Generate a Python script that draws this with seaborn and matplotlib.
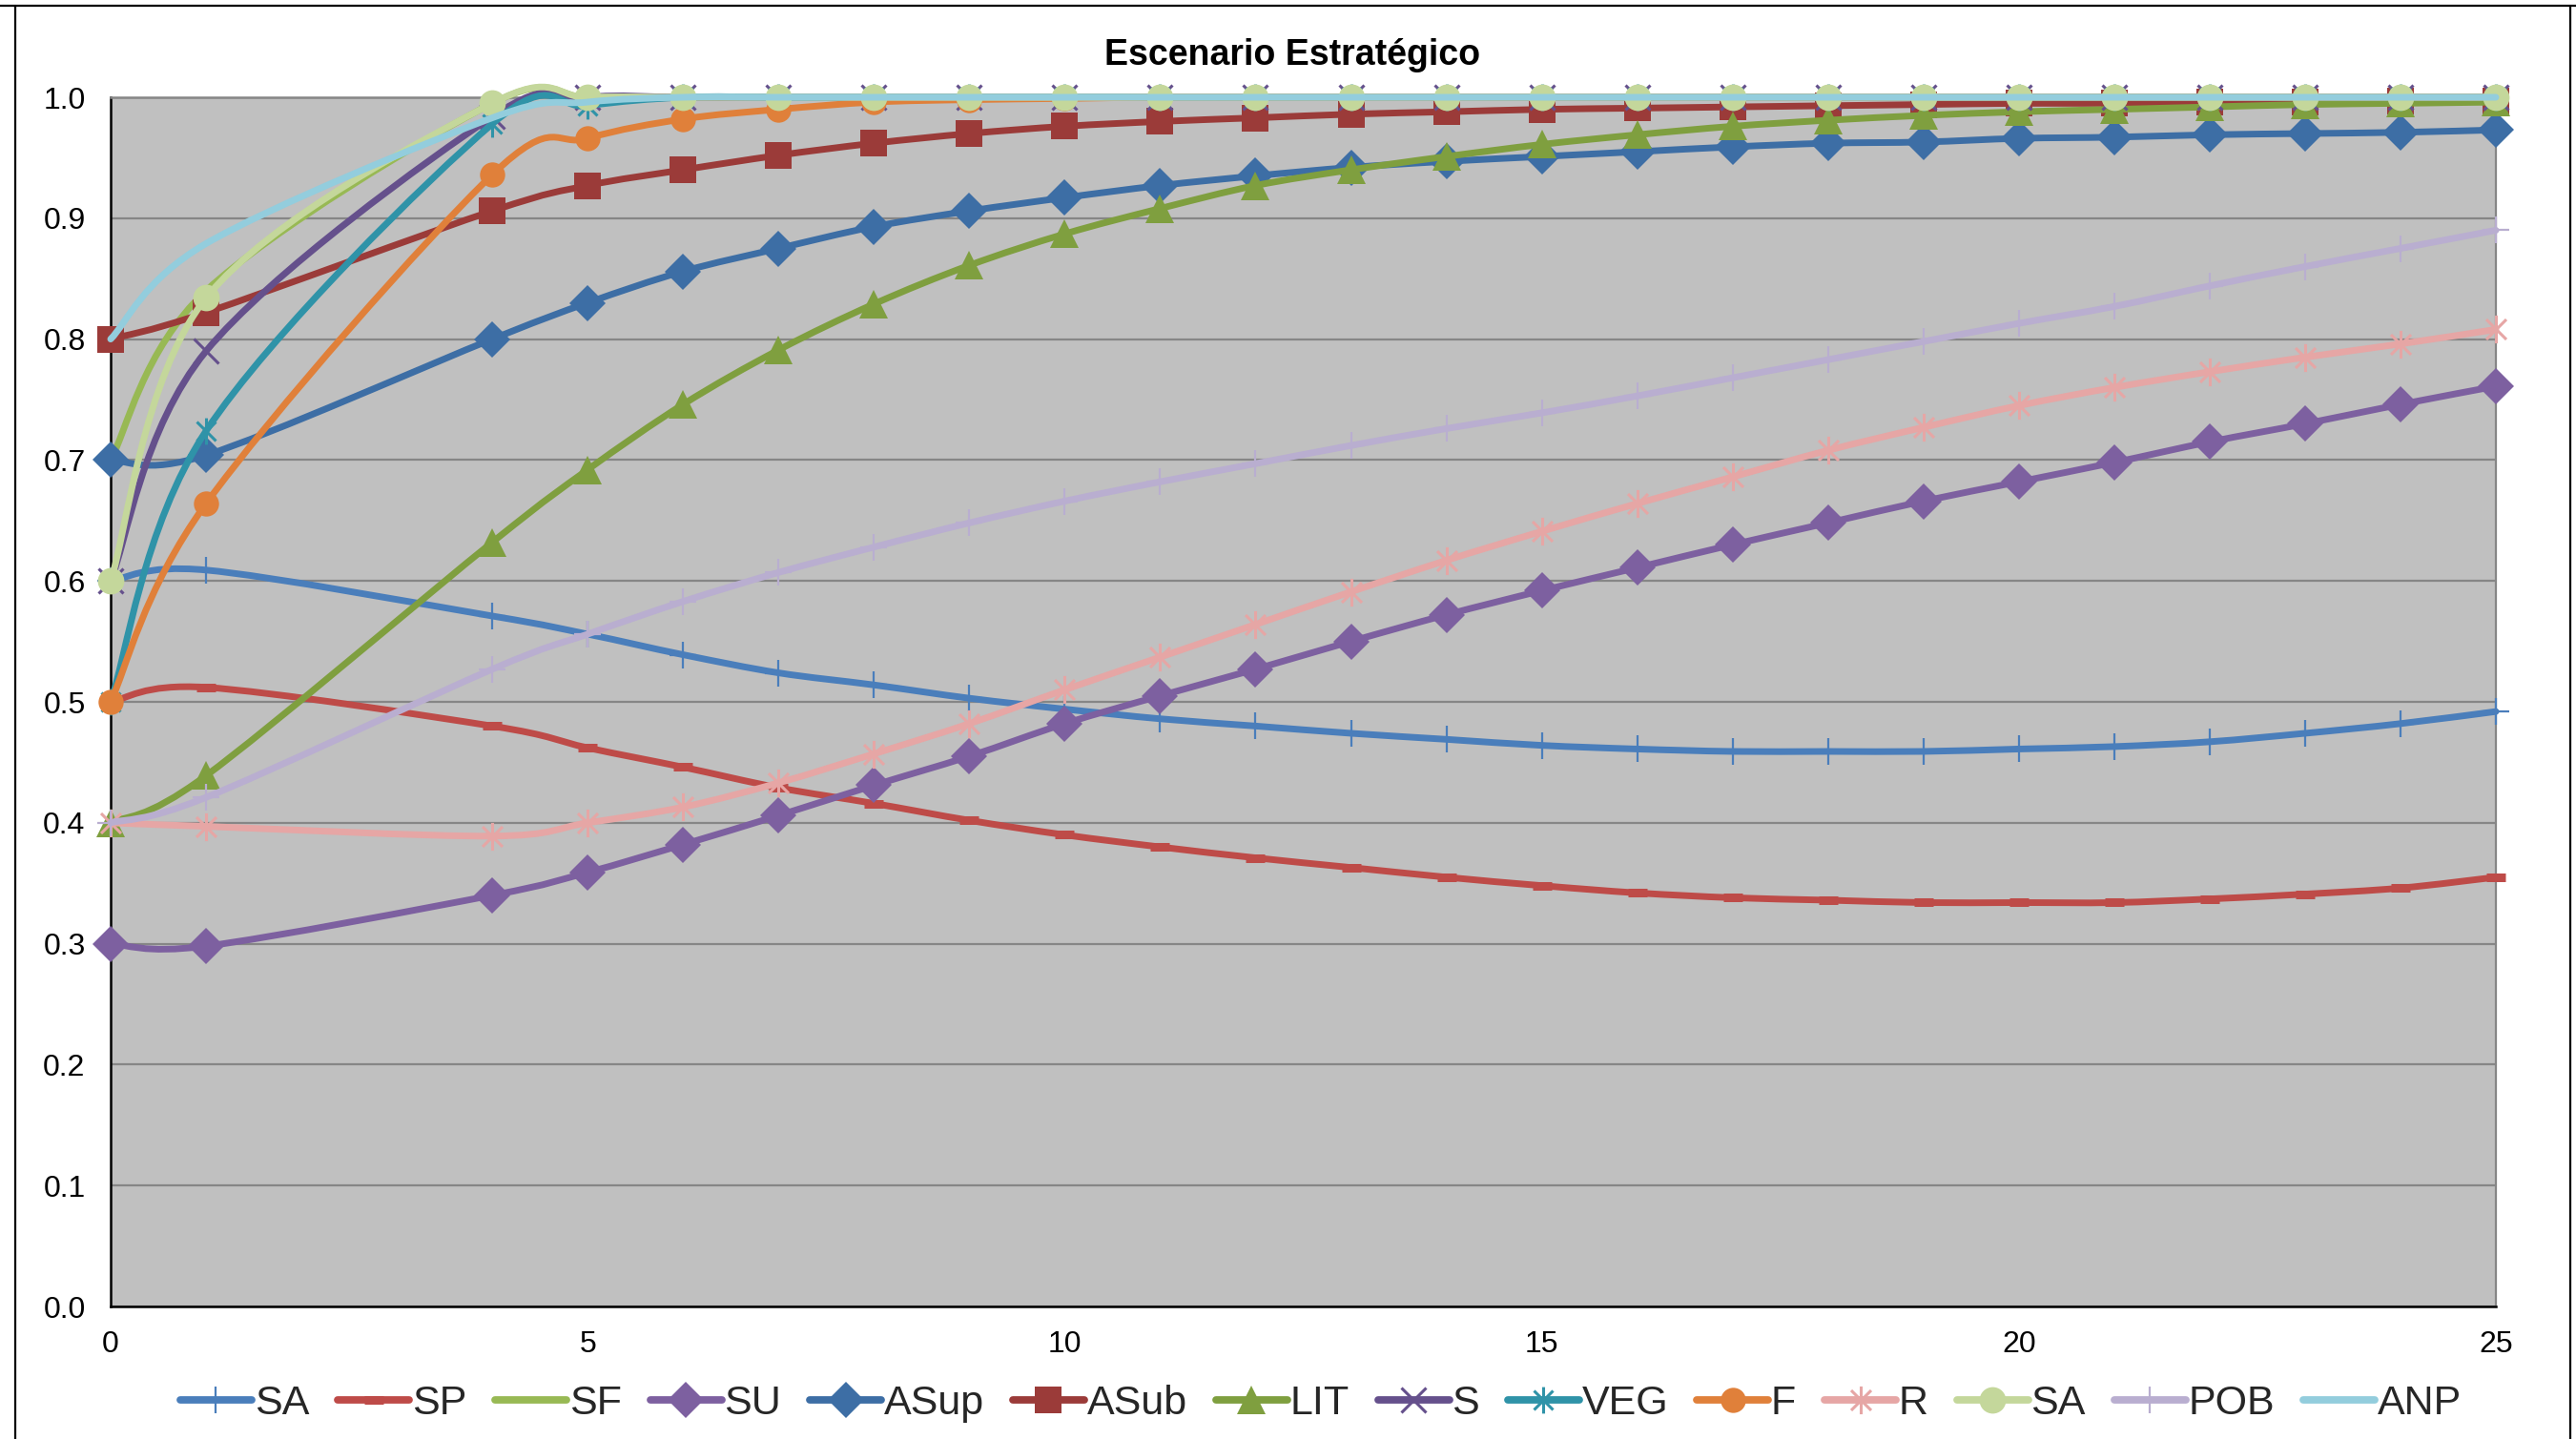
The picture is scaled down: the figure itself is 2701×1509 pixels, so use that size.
import numpy as np
import pandas as pd
import seaborn as sns
import matplotlib
matplotlib.use("Agg")
import matplotlib.pyplot as plt
from matplotlib.path import Path
from matplotlib.patches import PathPatch
from matplotlib.lines import Line2D

# ---- data -------------------------------------------------------------
years = [0, 1, 4, 5, 6, 7, 8, 9, 10, 11, 12, 13, 14, 15, 16, 17, 18, 19, 20, 21, 22, 23, 24, 25]

SA = [0.600, 0.609, 0.571, 0.556, 0.539, 0.524, 0.514, 0.503, 0.494, 0.486, 0.480, 0.474,
      0.469, 0.464, 0.461, 0.459, 0.459, 0.459, 0.461, 0.463, 0.467, 0.474, 0.482, 0.492]
SP = [0.500, 0.512, 0.480, 0.462, 0.446, 0.429, 0.416, 0.402, 0.390, 0.380, 0.371, 0.363,
      0.355, 0.348, 0.342, 0.338, 0.336, 0.334, 0.334, 0.334, 0.337, 0.341, 0.346, 0.355]
SF = [0.700, 0.840, 0.995, 1.000, 1.000, 1.000, 1.000, 1.000, 1.000, 1.000, 1.000, 1.000,
      1.000, 1.000, 1.000, 1.000, 1.000, 1.000, 1.000, 1.000, 1.000, 1.000, 1.000, 1.000]
SU = [0.300, 0.298, 0.340, 0.359, 0.382, 0.406, 0.431, 0.455, 0.482, 0.505, 0.527, 0.550,
      0.572, 0.592, 0.611, 0.630, 0.648, 0.666, 0.682, 0.698, 0.715, 0.730, 0.746, 0.761]
ASup = [0.700, 0.704, 0.800, 0.830, 0.856, 0.875, 0.893, 0.906, 0.917, 0.927, 0.935, 0.942,
        0.947, 0.951, 0.955, 0.959, 0.962, 0.963, 0.966, 0.967, 0.969, 0.970, 0.971, 0.973]
ASub = [0.800, 0.822, 0.906, 0.927, 0.940, 0.952, 0.962, 0.970, 0.976, 0.980, 0.983, 0.986,
        0.988, 0.990, 0.991, 0.992, 0.993, 0.994, 0.995, 0.995, 0.996, 0.996, 0.997, 0.997]
LIT = [0.400, 0.439, 0.632, 0.692, 0.746, 0.791, 0.829, 0.861, 0.887, 0.908, 0.927, 0.940,
       0.951, 0.961, 0.969, 0.976, 0.981, 0.985, 0.988, 0.990, 0.992, 0.994, 0.995, 0.996]
S = [0.600, 0.790, 0.984, 1.000, 1.000, 1.000, 1.000, 1.000, 1.000, 1.000, 1.000, 1.000,
     1.000, 1.000, 1.000, 1.000, 1.000, 1.000, 1.000, 1.000, 1.000, 1.000, 1.000, 1.000]
VEG = [0.500, 0.724, 0.978, 0.993, 1.000, 1.000, 1.000, 1.000, 1.000, 1.000, 1.000, 1.000,
       1.000, 1.000, 1.000, 1.000, 1.000, 1.000, 1.000, 1.000, 1.000, 1.000, 1.000, 1.000]
F = [0.500, 0.664, 0.936, 0.966, 0.982, 0.990, 0.996, 0.998, 0.999, 1.000, 1.000, 1.000,
     1.000, 1.000, 1.000, 1.000, 1.000, 1.000, 1.000, 1.000, 1.000, 1.000, 1.000, 1.000]
R = [0.400, 0.397, 0.389, 0.400, 0.413, 0.433, 0.457, 0.482, 0.510, 0.537, 0.564, 0.591,
     0.617, 0.641, 0.664, 0.686, 0.708, 0.727, 0.745, 0.760, 0.773, 0.785, 0.796, 0.808]
SA2 = [0.600, 0.834, 0.995, 1.000, 1.000, 1.000, 1.000, 1.000, 1.000, 1.000, 1.000, 1.000,
       1.000, 1.000, 1.000, 1.000, 1.000, 1.000, 1.000, 1.000, 1.000, 1.000, 1.000, 1.000]
POB = [0.400, 0.421, 0.527, 0.556, 0.583, 0.607, 0.628, 0.648, 0.666, 0.682, 0.697, 0.712,
       0.726, 0.739, 0.753, 0.768, 0.783, 0.798, 0.813, 0.827, 0.844, 0.860, 0.875, 0.890]
ANP = [0.800, 0.879, 0.983, 0.996, 1.000, 1.000, 1.000, 1.000, 1.000, 1.000, 1.000, 1.000,
       1.000, 1.000, 1.000, 1.000, 1.000, 1.000, 1.000, 1.000, 1.000, 1.000, 1.000, 1.000]

labels = ["SA", "SP", "SF", "SU", "ASup", "ASub", "LIT", "S", "VEG", "F", "R", "SA", "POB", "ANP"]
values = [SA, SP, SF, SU, ASup, ASub, LIT, S, VEG, F, R, SA2, POB, ANP]
y_ticks = [0.0, 0.1, 0.2, 0.3, 0.4, 0.5, 0.6, 0.7, 0.8, 0.9, 1.0]
x_ticks = [0, 5, 10, 15, 20, 25]
title = "Escenario Estratégico"

# ---- styles -----------------------------------------------------------
asterisk = Path([(0, -1), (0, 1), (-0.72, -0.72), (0.72, 0.72), (-0.72, 0.72), (0.72, -0.72)],
                [Path.MOVETO, Path.LINETO, Path.MOVETO, Path.LINETO, Path.MOVETO, Path.LINETO])

styles = [
    dict(color="#4a7ebb", marker="+", ms=20, mew=1.6),
    dict(color="#be4b48", marker="_", ms=14, mew=6.5),
    dict(color="#98b954", marker=None, ms=0, mew=0),
    dict(color="#7d60a0", marker="D", ms=19, mew=0),
    dict(color="#3d6ea5", marker="D", ms=19, mew=0),
    dict(color="#9b3b39", marker="s", ms=20, mew=0),
    dict(color="#7f9f3f", marker="^", ms=22, mew=0),
    dict(color="#65508c", marker="x", ms=19, mew=2.2),
    dict(color="#2f93a8", marker=asterisk, ms=20, mew=2.2),
    dict(color="#e0803a", marker="o", ms=19, mew=0),
    dict(color="#e6a6a5", marker=asterisk, ms=21, mew=2.2),
    dict(color="#c4d79b", marker="o", ms=20, mew=0),
    dict(color="#b9aed0", marker="+", ms=20, mew=1.6),
    dict(color="#93cddd", marker=None, ms=0, mew=0),
]
LW = 5.0

sns.set_style("white")
plt.rcParams["font.family"] = ["Liberation Sans", "DejaVu Sans"]

W, H = 2701, 1509
fig = plt.figure(figsize=(W / 100, H / 100), dpi=100)
L, Rr, T, B = 116, 2617, 102, 1370
ax = fig.add_axes([L / W, 1 - B / H, (Rr - L) / W, (B - T) / H])
ax.set_facecolor("#c0c0c0")


def smooth_path(xs, ys, t=1 / 6):
    """Cubic Bezier path through the points, Excel-style smoothed line."""
    p = np.column_stack([xs, ys]).astype(float)
    n = len(p)
    verts, codes = [p[0]], [Path.MOVETO]
    for i in range(n - 1):
        a = p[i - 1] if i > 0 else p[i]
        b, c = p[i], p[i + 1]
        d = p[i + 2] if i + 2 < n else p[i + 1]
        verts += [b + (c - a) * t, c - (d - b) * t, c]
        codes += [Path.CURVE4] * 3
    return Path(verts, codes)


for k, (lab, vals, st) in enumerate(zip(labels, values, styles)):
    z = 3 + k * 0.1
    df = pd.DataFrame({"t": years, "v": vals})
    patch = PathPatch(smooth_path(df["t"], df["v"]), facecolor="none", edgecolor=st["color"],
                      lw=LW, capstyle="round", joinstyle="round", zorder=z, clip_on=False)
    ax.add_patch(patch)
    if st["marker"] is not None:
        sns.lineplot(data=df, x="t", y="v", ax=ax, color=st["color"], linestyle="",
                     marker=st["marker"], markersize=st["ms"], markeredgewidth=st["mew"],
                     markeredgecolor=st["color"], markerfacecolor=st["color"],
                     zorder=z + 0.05, clip_on=False, legend=False)

ax.set_xlim(0, 25)
ax.set_ylim(0, 1)
ax.set_xticks(x_ticks)
ax.set_xticklabels([str(v) for v in x_ticks])
ax.set_yticks(y_ticks)
ax.set_yticklabels([f"{v:.1f}" for v in y_ticks])
ax.set_xlabel("")
ax.set_ylabel("")
ax.tick_params(axis="both", length=0, labelsize=23, colors="black")
ax.tick_params(axis="x", pad=18)
ax.tick_params(axis="y", pad=19)
ax.grid(axis="y", color="#868686", lw=1.6, zorder=1)
ax.set_axisbelow(True)
for side in ["left", "bottom"]:
    ax.spines[side].set_color("black")
    ax.spines[side].set_linewidth(1.8)
ax.spines["top"].set_color("#868686")
ax.spines["top"].set_linewidth(1.8)
ax.spines["right"].set_color("#868686")
ax.spines["right"].set_linewidth(1.6)

fig.text(1355 / W, 1 - 68 / H, title, ha="center", va="baseline",
         fontsize=27, fontweight="bold", color="black")

handles = []
for st in styles:
    handles.append(Line2D([], [], color=st["color"], lw=5.6, solid_capstyle="round",
                          marker=st["marker"] if st["marker"] is not None else "",
                          ms=st["ms"], mew=st["mew"], mec=st["color"], mfc=st["color"]))
leg = fig.legend(handles, labels, loc="center", bbox_to_anchor=(1385 / W, 1 - 1472 / H),
                 ncol=14, frameon=False, handlelength=1.74, handletextpad=0.06,
                 columnspacing=0.7, borderpad=0, prop=dict(size=31))

# outer frame of the chart
frame_kw = dict(transform=fig.transFigure, color="black", lw=1.6)
fig.add_artist(Line2D([0, 1], [1 - 6 / H, 1 - 6 / H], **frame_kw))
fig.add_artist(Line2D([16 / W, 16 / W], [0, 1 - 6 / H], **frame_kw))
fig.add_artist(Line2D([2695 / W, 2695 / W], [0, 1 - 6 / H], **frame_kw))

fig.savefig("out.png", dpi=100, facecolor="white")
